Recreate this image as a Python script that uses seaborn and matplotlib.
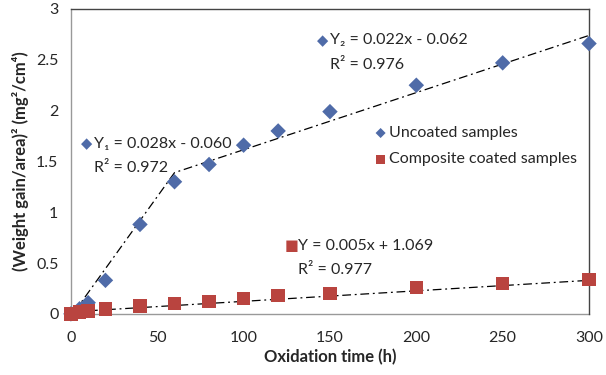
import numpy as np
import pandas as pd
import seaborn as sns
from matplotlib import pyplot as plt

### data

time_h = [0, 5, 10, 20, 40, 60, 80, 100, 120, 150, 200, 250, 300]
uncoated = [0.0, 0.05, 0.11, 0.33, 0.88, 1.30, 1.47, 1.66, 1.80, 1.99, 2.25, 2.47, 2.66]
coated = [0.0, 0.02, 0.03, 0.05, 0.08, 0.10, 0.12, 0.15, 0.18, 0.20, 0.26, 0.30, 0.34]

# trend lines as drawn (break at 60 h for the uncoated samples)
trend_unc_x = [2, 60, 300]
trend_unc_y = [0.02, 1.39, 2.74]
trend_coat_x = [0, 300]
trend_coat_y = [0.02, 0.33]

x_ticks = [0, 50, 100, 150, 200, 250, 300]
y_ticks = [0, 0.5, 1, 1.5, 2, 2.5, 3]
y_tick_labels = ['0', '0.5', '1', '1.5', '2', '2.5', '3']

blue = '#4F6BA8'
red = '#B9443F'

df = pd.DataFrame({'time': time_h, 'Uncoated samples': uncoated,
                   'Composite coated samples': coated})

sns.set_style('white')
plt.rcParams['font.family'] = ['Lato', 'DejaVu Sans']
plt.rcParams['font.size'] = 11.5

fig, ax = plt.subplots(figsize=(6.06, 3.75), dpi=100)
fig.subplots_adjust(left=0.117, right=0.972, top=0.976, bottom=0.163)

# trend lines
sns.lineplot(x=trend_unc_x, y=trend_unc_y, ax=ax, color='black', lw=0.9,
             linestyle=(0, (7, 3, 1.5, 3)), zorder=2)
sns.lineplot(x=trend_coat_x, y=trend_coat_y, ax=ax, color='black', lw=0.9,
             linestyle=(0, (7, 3, 1.5, 3)), zorder=2)

# markers
sns.scatterplot(data=df, x='time', y='Uncoated samples', ax=ax, marker='D',
                s=62, color=blue, edgecolor='none', zorder=3, clip_on=False,
                label='Uncoated samples')
sns.scatterplot(data=df, x='time', y='Composite coated samples', ax=ax,
                marker='s', s=95, color=red, edgecolor='none', zorder=3,
                clip_on=False, label='Composite coated samples')

ax.set_xlim(0, 300)
ax.set_ylim(0, 3)
ax.set_xticks(x_ticks)
ax.set_yticks(y_ticks)
ax.set_yticklabels(y_tick_labels)
ax.tick_params(axis='both', direction='out', length=4, width=0.8,
               color='#999999', labelsize=11.5, pad=5)
ax.tick_params(axis='x', pad=8)

for side in ['left', 'bottom']:
    ax.spines[side].set_color('#999999')
    ax.spines[side].set_linewidth(1.0)
for side in ['top', 'right']:
    ax.spines[side].set_color('#444444')
    ax.spines[side].set_linewidth(1.0)
ax.spines['left'].set_zorder(1)
ax.spines['bottom'].set_zorder(1)

ax.set_xlabel('Oxidation time (h)', fontweight='bold', fontsize=12, labelpad=3)
ax.set_ylabel('(Weight gain/area)² (mg²/cm⁴)', fontweight='bold',
              fontsize=12, labelpad=5)

### equation labels

def eq_label(xf, yf, sym, col, line1, line2):
    ax.text(xf, yf, sym, transform=ax.transAxes, color=col, fontsize=10.5,
            ha='left', va='center', family=['DejaVu Sans'])
    ax.text(xf + 0.025, yf, line1, transform=ax.transAxes, fontsize=11.5,
            ha='left', va='center')
    ax.text(xf + 0.025, yf - 0.08, line2, transform=ax.transAxes,
            fontsize=11.5, ha='left', va='center')

eq_label(0.020, 0.557, '◆', blue, 'Y₁ = 0.028x - 0.060', 'R² = 0.972')
eq_label(0.475, 0.897, '◆', blue, 'Y₂ = 0.022x - 0.062', 'R² = 0.976')
eq_label(0.413, 0.224, '■', red, 'Y = 0.005x + 1.069', 'R² = 0.977')

leg = ax.legend(loc='center left', bbox_to_anchor=(0.57, 0.55),
                frameon=False, handletextpad=0.0, labelspacing=0.75,
                handlelength=1.0, borderaxespad=0, fontsize=11.5,
                markerscale=0.65)

plt.savefig('out.png', dpi=100)
